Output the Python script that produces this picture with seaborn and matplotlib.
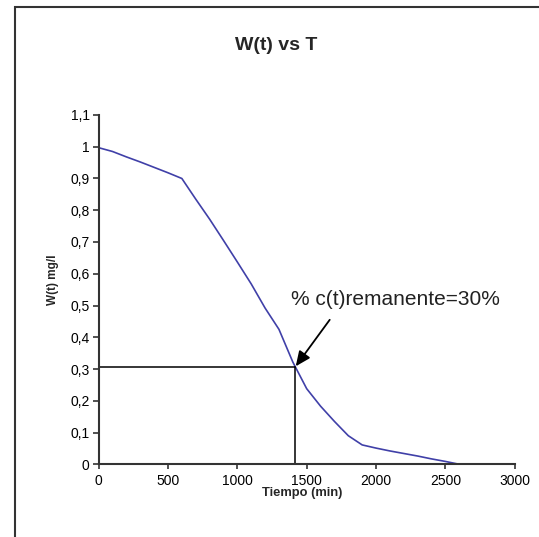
import matplotlib
matplotlib.use("Agg")
import matplotlib.pyplot as plt
import seaborn as sns
import pandas as pd
from matplotlib.patches import Rectangle

tiempo = [0, 100, 200, 300, 400, 500, 600, 700, 800, 900, 1000, 1100, 1200, 1300,
          1400, 1500, 1600, 1700, 1800, 1900, 2000, 2100, 2200, 2300, 2400, 2500, 2600]
wt = [0.997, 0.985, 0.968, 0.952, 0.935, 0.918, 0.900, 0.835, 0.772, 0.705, 0.637,
      0.568, 0.492, 0.425, 0.322, 0.238, 0.183, 0.135, 0.090, 0.061, 0.051, 0.042,
      0.034, 0.026, 0.017, 0.009, 0.0]
t_30 = 1415
w_30 = 0.305
x_ticks = [0, 500, 1000, 1500, 2000, 2500, 3000]
y_ticks = [0, 0.1, 0.2, 0.3, 0.4, 0.5, 0.6, 0.7, 0.8, 0.9, 1.0, 1.1]
y_ticklabels = ["0", "0,1", "0,2", "0,3", "0,4", "0,5", "0,6", "0,7", "0,8", "0,9", "1", "1,1"]

sns.set_style("white")
plt.rcParams['font.family'] = ['Liberation Sans', 'DejaVu Sans']

df = pd.DataFrame({"Tiempo": tiempo, "W": wt})

fig = plt.figure(figsize=(5.39, 5.37), dpi=100)
ax = fig.add_axes([0.183, 0.1354, 0.772, 0.6505])

sns.lineplot(data=df, x="Tiempo", y="W", ax=ax, color="#4040a8", linewidth=1.2)

ax.plot([0, t_30], [w_30, w_30], color="black", linewidth=1.1)
ax.plot([t_30, t_30], [0, w_30], color="black", linewidth=1.1)

ax.set_xlim(0, 3000)
ax.set_ylim(0, 1.1)
ax.set_xticks(x_ticks)
ax.set_xticklabels([str(v) for v in x_ticks], fontsize=10, color="black")
ax.set_yticks(y_ticks)
ax.set_yticklabels(y_ticklabels, fontsize=10, color="black")
ax.tick_params(axis="x", direction="out", length=3.5, width=1.2, color="#333333",
               bottom=True, pad=3.5)
ax.tick_params(axis="y", direction="out", length=4.5, width=1.2, color="#333333",
               left=True, pad=2)

for side in ["top", "right"]:
    ax.spines[side].set_visible(False)
for side in ["left", "bottom"]:
    ax.spines[side].set_color("#333333")
    ax.spines[side].set_linewidth(1.5)

ax.set_xlabel("Tiempo (min)", fontsize=9.3, fontweight="bold")
ax.xaxis.set_label_coords(0.49, -0.066)
ax.set_ylabel("W(t) mg/l", fontsize=8.5, fontweight="bold")
ax.yaxis.set_label_coords(-0.096, 0.528)

ax.annotate("", xy=(t_30, w_30), xytext=(1666, 0.455),
            arrowprops=dict(arrowstyle="-|>,head_length=0.9,head_width=0.4",
                            color="black", lw=1.3, shrinkA=0, shrinkB=1))
ax.text(1390, 0.52, "% c(t)remanente=30%", fontsize=15, color="#222222",
        ha="left", va="center")

fig.text(0.513, 0.916, "W(t) vs T", ha="center", va="center", fontsize=14, fontweight="bold")

fig.patches.append(Rectangle((15 / 539, -0.1), 1.2, 1 - 7 / 537 + 0.1,
                             transform=fig.transFigure, fill=False,
                             edgecolor="#333333", linewidth=1.5))

fig.savefig("out.png", dpi=100)
